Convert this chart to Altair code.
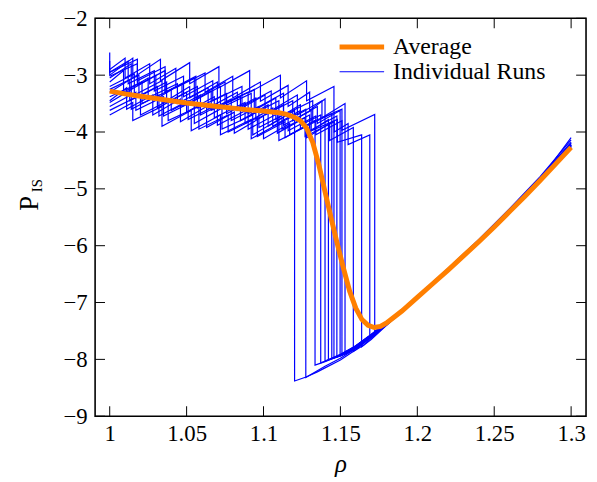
import altair as alt
import pandas as pd

FONT = "Liberation Serif"

# ---------------- data ----------------
x_ticks = [1.0, 1.05, 1.1, 1.15, 1.2, 1.25, 1.3]
y_ticks = [-9, -8, -7, -6, -5, -4, -3, -2]
series_names = ["Average", "Individual Runs"]
series_colors = ["#ff7f00", "#0000ff"]
series_widths = [5, 1.2]
ylabel_main = ["P"]
ylabel_sub = ["IS"]

avg_rho = [1.000, 1.010, 1.020, 1.030, 1.040, 1.050, 1.060, 1.070, 1.080, 1.090,
           1.100, 1.110, 1.115, 1.120, 1.124, 1.128, 1.132, 1.136, 1.140, 1.144,
           1.148, 1.152, 1.156, 1.160, 1.164, 1.168, 1.172, 1.176, 1.180, 1.190,
           1.200, 1.210, 1.220, 1.230, 1.240, 1.250, 1.260, 1.270, 1.280, 1.290,
           1.300]
avg_p = [-3.28, -3.33, -3.37, -3.41, -3.45, -3.49, -3.52, -3.55, -3.58, -3.61,
         -3.63, -3.66, -3.69, -3.74, -3.80, -3.93, -4.18, -4.58, -5.05, -5.52,
         -5.97, -6.40, -6.80, -7.10, -7.30, -7.40, -7.44, -7.42, -7.36, -7.15,
         -6.91, -6.67, -6.43, -6.18, -5.93, -5.67, -5.40, -5.13, -4.85, -4.56,
         -4.27]

run01_rho = [1.000, 1.014, 1.014, 1.030, 1.030, 1.047, 1.047, 1.066, 1.066, 1.085, 1.085, 1.103, 1.103, 1.1202,
             1.1202, 1.1277, 1.135, 1.140, 1.150, 1.160, 1.170, 1.180, 1.190, 1.200, 1.220, 1.240, 1.260, 1.280, 1.300]
run01_p = [-3.05, -2.80, -3.25, -3.00, -3.42, -3.15, -3.55, -3.28, -3.62, -3.38, -3.80, -3.52, -3.90, -3.62,
           -8.38, -8.31, -8.22, -8.15, -8.01, -7.83, -7.61, -7.38, -7.15, -6.92, -6.44, -5.95, -5.42, -4.87, -4.28]

run02_rho = [1.000, 1.000, 1.018, 1.018, 1.036, 1.036, 1.055, 1.055, 1.072, 1.072, 1.092, 1.092, 1.110, 1.110, 1.1275,
             1.1275, 1.135, 1.140, 1.150, 1.160, 1.170, 1.180, 1.190, 1.200, 1.220, 1.240, 1.260, 1.280, 1.300]
run02_p = [-2.60, -2.95, -2.72, -3.10, -2.85, -3.30, -3.05, -3.45, -3.20, -3.58, -3.32, -3.70, -3.45, -3.85, -3.60,
           -8.32, -8.20, -8.12, -7.98, -7.81, -7.60, -7.37, -7.14, -6.91, -6.43, -5.93, -5.40, -4.85, -4.25]

run03_rho = [1.000, 1.011, 1.011, 1.028, 1.028, 1.046, 1.046, 1.063, 1.063, 1.081, 1.081, 1.100, 1.100, 1.117, 1.117, 1.1335,
             1.1335, 1.140, 1.150, 1.160, 1.170, 1.180, 1.190, 1.200, 1.220, 1.240, 1.260, 1.280, 1.300]
run03_p = [-3.45, -3.22, -3.60, -3.35, -3.70, -3.42, -3.82, -3.55, -3.92, -3.65, -4.02, -3.72, -4.12, -3.85, -4.05, -3.80,
           -8.10, -8.04, -7.93, -7.78, -7.58, -7.36, -7.14, -6.91, -6.42, -5.92, -5.39, -4.83, -4.22]

run04_rho = [1.000, 1.016, 1.016, 1.034, 1.034, 1.052, 1.052, 1.070, 1.070, 1.090, 1.090, 1.108, 1.108, 1.124, 1.124, 1.1372,
             1.1372, 1.145, 1.150, 1.160, 1.170, 1.180, 1.190, 1.200, 1.220, 1.240, 1.260, 1.280, 1.300]
run04_p = [-3.20, -2.98, -3.35, -3.10, -3.50, -3.20, -3.40, -3.12, -3.55, -3.30, -3.68, -3.40, -3.78, -3.52, -3.88, -3.70,
           -8.06, -7.98, -7.92, -7.77, -7.57, -7.36, -7.13, -6.90, -6.42, -5.92, -5.39, -4.84, -4.24]

run05_rho = [1.000, 1.010, 1.010, 1.026, 1.026, 1.043, 1.043, 1.062, 1.062, 1.080, 1.080, 1.098, 1.098, 1.116, 1.116, 1.130, 1.130, 1.1400,
             1.1400, 1.150, 1.160, 1.170, 1.180, 1.190, 1.200, 1.220, 1.240, 1.260, 1.280, 1.300]
run05_p = [-2.90, -2.70, -3.05, -2.80, -3.15, -2.88, -3.22, -2.96, -3.30, -3.02, -3.40, -3.12, -3.46, -3.18, -3.55, -3.30, -3.62, -3.42,
           -8.03, -7.91, -7.76, -7.56, -7.35, -7.13, -6.90, -6.41, -5.91, -5.38, -4.82, -4.20]

run06_rho = [1.000, 1.020, 1.020, 1.038, 1.038, 1.058, 1.058, 1.077, 1.077, 1.096, 1.096, 1.114, 1.114, 1.130, 1.130, 1.1422,
             1.1422, 1.150, 1.160, 1.170, 1.180, 1.190, 1.200, 1.220, 1.240, 1.260, 1.280, 1.300]
run06_p = [-3.62, -3.35, -3.70, -3.45, -3.80, -3.55, -3.95, -3.70, -4.00, -3.75, -4.08, -3.82, -4.10, -3.85, -4.00, -3.78,
           -8.01, -7.92, -7.77, -7.57, -7.35, -7.13, -6.90, -6.42, -5.92, -5.39, -4.84, -4.23]

run07_rho = [1.000, 1.013, 1.013, 1.031, 1.031, 1.050, 1.050, 1.068, 1.068, 1.088, 1.088, 1.106, 1.106, 1.124, 1.124, 1.1444,
             1.1444, 1.150, 1.160, 1.170, 1.180, 1.190, 1.200, 1.220, 1.240, 1.260, 1.280, 1.300]
run07_p = [-3.30, -3.08, -3.45, -3.20, -3.58, -3.30, -3.65, -3.38, -3.75, -3.48, -3.85, -3.58, -3.90, -3.62, -3.95, -3.68,
           -7.99, -7.93, -7.76, -7.56, -7.35, -7.12, -6.89, -6.40, -5.90, -5.36, -4.80, -4.18]

run08_rho = [1.000, 1.000, 1.015, 1.015, 1.033, 1.033, 1.052, 1.052, 1.071, 1.071, 1.091, 1.091, 1.111, 1.111, 1.128, 1.128, 1.1458,
             1.1458, 1.150, 1.160, 1.170, 1.180, 1.190, 1.200, 1.220, 1.240, 1.260, 1.280, 1.300]
run08_p = [-2.75, -3.00, -2.70, -3.05, -2.72, -3.10, -2.78, -3.15, -2.85, -3.22, -2.92, -3.30, -3.00, -3.40, -3.10, -3.45, -3.20,
           -7.98, -7.94, -7.77, -7.57, -7.35, -7.12, -6.89, -6.40, -5.89, -5.35, -4.78, -4.14]

run09_rho = [1.000, 1.017, 1.017, 1.035, 1.035, 1.055, 1.055, 1.073, 1.073, 1.093, 1.093, 1.112, 1.112, 1.130, 1.130, 1.1477,
             1.1477, 1.155, 1.160, 1.170, 1.180, 1.190, 1.200, 1.220, 1.240, 1.260, 1.280, 1.300]
run09_p = [-3.55, -3.30, -3.62, -3.38, -3.72, -3.45, -3.85, -3.58, -3.95, -3.70, -4.05, -3.75, -3.95, -3.70, -3.98, -3.72,
           -7.96, -7.88, -7.78, -7.58, -7.36, -7.13, -6.90, -6.42, -5.92, -5.39, -4.84, -4.24]

run10_rho = [1.000, 1.009, 1.009, 1.025, 1.025, 1.044, 1.044, 1.064, 1.064, 1.083, 1.083, 1.101, 1.101, 1.119, 1.119, 1.135, 1.135, 1.1498,
             1.1498, 1.160, 1.170, 1.180, 1.190, 1.200, 1.220, 1.240, 1.260, 1.280, 1.300]
run10_p = [-3.12, -2.92, -3.30, -3.05, -3.40, -3.15, -3.50, -3.22, -3.58, -3.30, -3.62, -3.35, -3.70, -3.45, -3.80, -3.55, -3.85, -3.62,
           -7.94, -7.79, -7.59, -7.37, -7.14, -6.91, -6.43, -5.93, -5.40, -4.85, -4.26]

run11_rho = [1.000, 1.021, 1.021, 1.040, 1.040, 1.059, 1.059, 1.079, 1.079, 1.097, 1.097, 1.116, 1.116, 1.134, 1.134, 1.1510,
             1.1510, 1.160, 1.170, 1.180, 1.190, 1.200, 1.220, 1.240, 1.260, 1.280, 1.300]
run11_p = [-3.38, -3.12, -3.50, -3.25, -3.62, -3.35, -3.70, -3.42, -3.80, -3.55, -3.92, -3.65, -3.98, -3.72, -4.05, -3.80,
           -7.93, -7.80, -7.60, -7.37, -7.14, -6.91, -6.42, -5.92, -5.38, -4.82, -4.20]

run12_rho = [1.000, 1.012, 1.012, 1.029, 1.029, 1.048, 1.048, 1.067, 1.067, 1.086, 1.086, 1.105, 1.105, 1.122, 1.122, 1.138, 1.138, 1.1530,
             1.1530, 1.160, 1.170, 1.180, 1.190, 1.200, 1.220, 1.240, 1.260, 1.280, 1.300]
run12_p = [-2.95, -2.75, -3.15, -2.92, -3.28, -3.02, -3.38, -3.10, -3.45, -3.20, -3.55, -3.28, -3.62, -3.35, -3.70, -3.45, -3.75, -3.50,
           -7.91, -7.81, -7.61, -7.38, -7.15, -6.92, -6.43, -5.93, -5.40, -4.84, -4.23]

run13_rho = [1.000, 1.015, 1.015, 1.034, 1.034, 1.053, 1.053, 1.072, 1.072, 1.092, 1.092, 1.110, 1.110, 1.128, 1.128, 1.143, 1.143, 1.1584,
             1.1584, 1.165, 1.170, 1.180, 1.190, 1.200, 1.220, 1.240, 1.260, 1.280, 1.300]
run13_p = [-3.70, -3.48, -3.80, -3.55, -3.90, -3.62, -3.98, -3.70, -4.05, -3.78, -4.12, -3.85, -4.15, -3.90, -4.10, -3.85, -4.15, -3.92,
           -7.86, -7.75, -7.63, -7.39, -7.15, -6.92, -6.44, -5.94, -5.41, -4.86, -4.26]

run14_rho = [1.000, 1.019, 1.019, 1.037, 1.037, 1.057, 1.057, 1.076, 1.076, 1.095, 1.095, 1.113, 1.113, 1.131, 1.131, 1.148, 1.148, 1.1638,
             1.1638, 1.170, 1.180, 1.190, 1.200, 1.220, 1.240, 1.260, 1.280, 1.300]
run14_p = [-3.25, -3.00, -3.38, -3.12, -3.48, -3.20, -3.58, -3.32, -3.68, -3.40, -3.78, -3.52, -3.88, -3.62, -3.98, -3.78, -4.18, -4.05,
           -7.78, -7.65, -7.40, -7.16, -6.93, -6.45, -5.95, -5.42, -4.87, -4.28]

run15_rho = [1.000, 1.014, 1.014, 1.032, 1.032, 1.051, 1.051, 1.070, 1.070, 1.090, 1.090, 1.109, 1.109, 1.127, 1.127, 1.146, 1.146, 1.155, 1.155, 1.1691,
             1.1691, 1.175, 1.180, 1.190, 1.200, 1.220, 1.240, 1.260, 1.280, 1.300]
run15_p = [-3.48, -3.25, -3.60, -3.35, -3.72, -3.45, -3.78, -3.52, -3.88, -3.60, -3.95, -3.68, -4.02, -3.75, -4.08, -3.82, -4.00, -3.85, -4.22, -4.05,
           -7.62, -7.50, -7.40, -7.16, -6.93, -6.44, -5.94, -5.41, -4.85, -4.24]

run16_rho = [1.000, 1.018, 1.018, 1.036, 1.036, 1.056, 1.056, 1.075, 1.075, 1.094, 1.094, 1.113, 1.113, 1.132, 1.132, 1.151, 1.151, 1.1723,
             1.1723, 1.180, 1.190, 1.200, 1.220, 1.240, 1.260, 1.280, 1.300]
run16_p = [-3.02, -2.80, -3.18, -2.92, -3.30, -3.02, -3.40, -3.12, -3.50, -3.25, -3.60, -3.32, -3.70, -3.45, -3.82, -3.60, -3.97, -3.69,
           -7.52, -7.38, -7.15, -6.92, -6.43, -5.92, -5.39, -4.83, -4.10]

runs = [
    (run01_rho, run01_p), (run02_rho, run02_p), (run03_rho, run03_p), (run04_rho, run04_p),
    (run05_rho, run05_p), (run06_rho, run06_p), (run07_rho, run07_p), (run08_rho, run08_p),
    (run09_rho, run09_p), (run10_rho, run10_p), (run11_rho, run11_p), (run12_rho, run12_p),
    (run13_rho, run13_p), (run14_rho, run14_p), (run15_rho, run15_p), (run16_rho, run16_p),
]

# ---------------- tables ----------------
rows = []
for k, (rr, pp) in enumerate(runs):
    assert len(rr) == len(pp), k
    for j, (r, p) in enumerate(zip(rr, pp)):
        rows.append({"run": k, "idx": j, "rho": r, "p": p, "series": series_names[1]})
runs_df = pd.DataFrame(rows)
avg_df = pd.DataFrame({"idx": list(range(len(avg_rho))), "rho": avg_rho, "p": avg_p,
                       "series": series_names[0]})
xt_df = pd.DataFrame({"rho": x_ticks})
yt_df = pd.DataFrame({"p": y_ticks})

# ---------------- layout ----------------
W, H = 496, 402
TICK = 10

xscale = alt.Scale(domain=[0.9905, 1.3097], nice=False, zero=False)
yscale = alt.Scale(domain=[-9, -2], nice=False, zero=False)

xaxis = alt.Axis(values=x_ticks, format="~g", ticks=False, domain=False, grid=False,
                 labelFlush=False, labelPadding=7, title="ρ",
                 titleY=56, titleBaseline="alphabetic")
yaxis = alt.Axis(values=y_ticks, format="~g", ticks=False, domain=False, grid=False,
                 labelFlush=False, labelPadding=8, title=None)

X = alt.X("rho:Q", scale=xscale, axis=xaxis)
Y = alt.Y("p:Q", scale=yscale, axis=yaxis)

color = alt.Color("series:N", scale=alt.Scale(domain=series_names, range=series_colors), legend=None)
swidth = alt.StrokeWidth("series:N", scale=alt.Scale(domain=series_names, range=series_widths), legend=None)

runs_layer = alt.Chart(runs_df).mark_line().encode(
    x=X, y=Y, detail="run:N", order="idx:Q", color=color, strokeWidth=swidth)
avg_layer = alt.Chart(avg_df).mark_line().encode(
    x=X, y=Y, order="idx:Q", color=color, strokeWidth=swidth)

tick_style = dict(color="black", size=TICK, thickness=1, opacity=1)
xt_bottom = alt.Chart(xt_df).mark_tick(**tick_style).encode(x=X, y=alt.value(H - TICK / 2))
xt_top = alt.Chart(xt_df).mark_tick(**tick_style).encode(x=X, y=alt.value(TICK / 2))
yt_left = alt.Chart(yt_df).mark_tick(**tick_style).encode(y=Y, x=alt.value(TICK / 2))
yt_right = alt.Chart(yt_df).mark_tick(**tick_style).encode(y=Y, x=alt.value(W - TICK / 2))

# y-axis title: P with subscript IS
ylab_p = alt.Chart(pd.DataFrame({"t": ylabel_main})).mark_text(
    font=FONT, fontSize=27, angle=270, align="center", baseline="alphabetic", color="black"
).encode(text="t:N", x=alt.value(-58), y=alt.value(187))
ylab_s = alt.Chart(pd.DataFrame({"t": ylabel_sub})).mark_text(
    font=FONT, fontSize=15, angle=270, align="center", baseline="alphabetic", color="black"
).encode(text="t:N", x=alt.value(-54), y=alt.value(169))

# legend (drawn as marks, inside the plot, top right)
LEG_X0, LEG_X1, LEG_TX = 247, 292, 301
LEG_Y = [29, 54]
leg_layers = []
for i, name in enumerate(series_names):
    ldf = pd.DataFrame({"series": [name]})
    leg_layers.append(
        alt.Chart(ldf).mark_rule(color=series_colors[i], strokeWidth=series_widths[i]).encode(
            x=alt.value(LEG_X0), x2=alt.value(LEG_X1), y=alt.value(LEG_Y[i]))
    )
    leg_layers.append(
        alt.Chart(ldf).mark_text(font=FONT, fontSize=24, align="left", baseline="middle", color="black").encode(
            text="series:N", x=alt.value(LEG_TX), y=alt.value(LEG_Y[i]))
    )

chart = alt.layer(
    runs_layer, avg_layer, xt_bottom, xt_top, yt_left, yt_right, ylab_p, ylab_s, *leg_layers
).properties(
    width=W, height=H,
    autosize=alt.AutoSizeParams(type="none"),
    padding={"left": 88, "top": 8, "right": 3, "bottom": 60},
).configure(
    background="white", font=FONT
).configure_view(
    stroke="black", strokeWidth=1.6
).configure_axis(
    labelFont=FONT, labelFontSize=23, labelColor="black",
    titleFont=FONT, titleFontSize=25, titleFontStyle="italic", titleFontWeight="normal",
    titleColor="black"
)

chart.save("out.html", embed_options={"renderer": "svg", "actions": False})
